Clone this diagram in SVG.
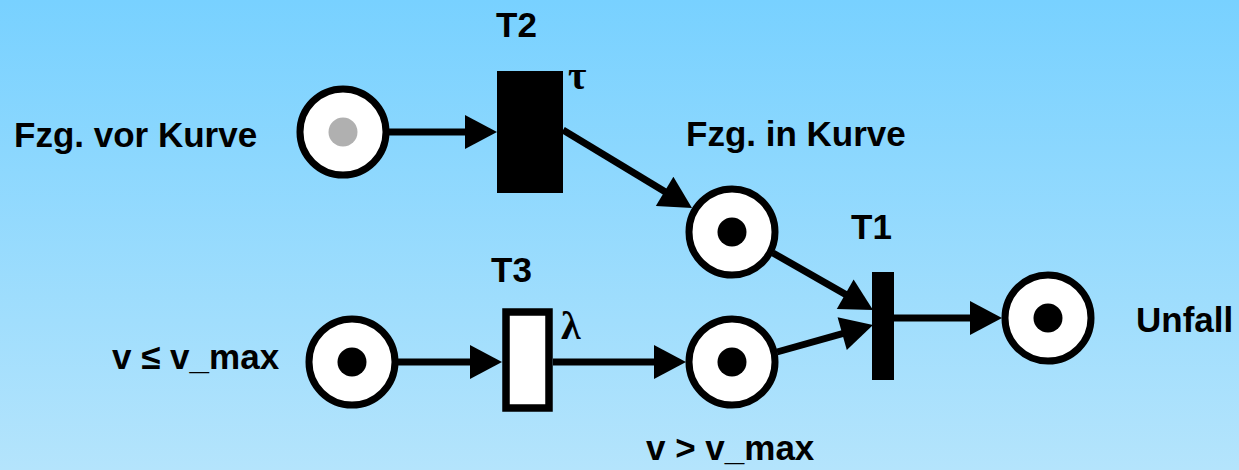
<svg xmlns="http://www.w3.org/2000/svg" width="1239" height="470" viewBox="0 0 1239 470">
<defs>
<linearGradient id="bg" x1="0" y1="0" x2="0" y2="1">
<stop offset="0" stop-color="#78d1ff"/>
<stop offset="1" stop-color="#b4e4fc"/>
</linearGradient>
<marker id="arr" markerUnits="userSpaceOnUse" markerWidth="34" markerHeight="34" viewBox="0 0 32 34" refX="16" refY="17" orient="auto">
<path d="M0,0 L32,17 L0,34 Z" fill="#000"/>
</marker>
</defs>
<style>
.place{fill:#fff;stroke:#000;stroke-width:7}
.tok{fill:#000}
.lbl{font-family:"Liberation Sans",Arial,sans-serif;font-weight:bold;font-size:35px;fill:#000}
.sym{font-family:"Liberation Serif","Times New Roman",serif;font-weight:bold;font-size:40px;fill:#000}
.arc{stroke:#000;stroke-width:7;fill:none;marker-end:url(#arr)}
</style>
<rect width="1239" height="470" fill="url(#bg)"/>
<g id="connectors">
<path class="arc" d="M389,132 L481,132"/>
<path class="arc" d="M563,130 L678.3,199.7"/>
<path class="arc" d="M773,253 L859.1,302.1"/>
<path class="arc" d="M777,352 L857.6,329.3"/>
<path class="arc" d="M398,362 L486,362"/>
<path class="arc" d="M553,362 L670,362"/>
<path class="arc" d="M894,318 L986,318"/>
</g>
<g id="p_vor_kurve">
<circle class="place" cx="343" cy="132" r="43"/>
<circle cx="343" cy="132" r="14.5" fill="#b0b0b0"/>
<text class="lbl" x="14" y="147">Fzg. vor Kurve</text>
</g>
<g id="t2">
<rect x="497" y="71" width="66" height="122" fill="#000"/>
<text class="lbl" x="496" y="37">T2</text>
<text class="sym" x="568" y="89">τ</text>
</g>
<g id="p_in_kurve">
<circle class="place" cx="732" cy="232" r="43"/>
<circle class="tok" cx="732" cy="232" r="14.5"/>
<text class="lbl" x="686" y="146">Fzg. in Kurve</text>
</g>
<g id="t1">
<rect x="872" y="272" width="22" height="108" fill="#000"/>
<text class="lbl" x="851" y="239">T1</text>
</g>
<g id="p_unfall">
<circle class="place" cx="1048" cy="318" r="43"/>
<circle class="tok" cx="1048" cy="318" r="14.5"/>
<text class="lbl" x="1136" y="332">Unfall</text>
</g>
<g id="p_v_le">
<circle class="place" cx="352" cy="362" r="43"/>
<circle class="tok" cx="352" cy="362" r="14.5"/>
<text class="lbl" x="112" y="369">v ≤ v_max</text>
</g>
<g id="t3">
<rect x="506" y="312" width="43" height="96" fill="#fff" stroke="#000" stroke-width="7.5"/>
<text class="lbl" x="491" y="282">T3</text>
<text class="sym" x="561" y="339">λ</text>
</g>
<g id="p_v_gt">
<circle class="place" cx="732" cy="362" r="43"/>
<circle class="tok" cx="732" cy="362" r="14.5"/>
<text class="lbl" x="646" y="460">v &gt; v_max</text>
</g>
</svg>
